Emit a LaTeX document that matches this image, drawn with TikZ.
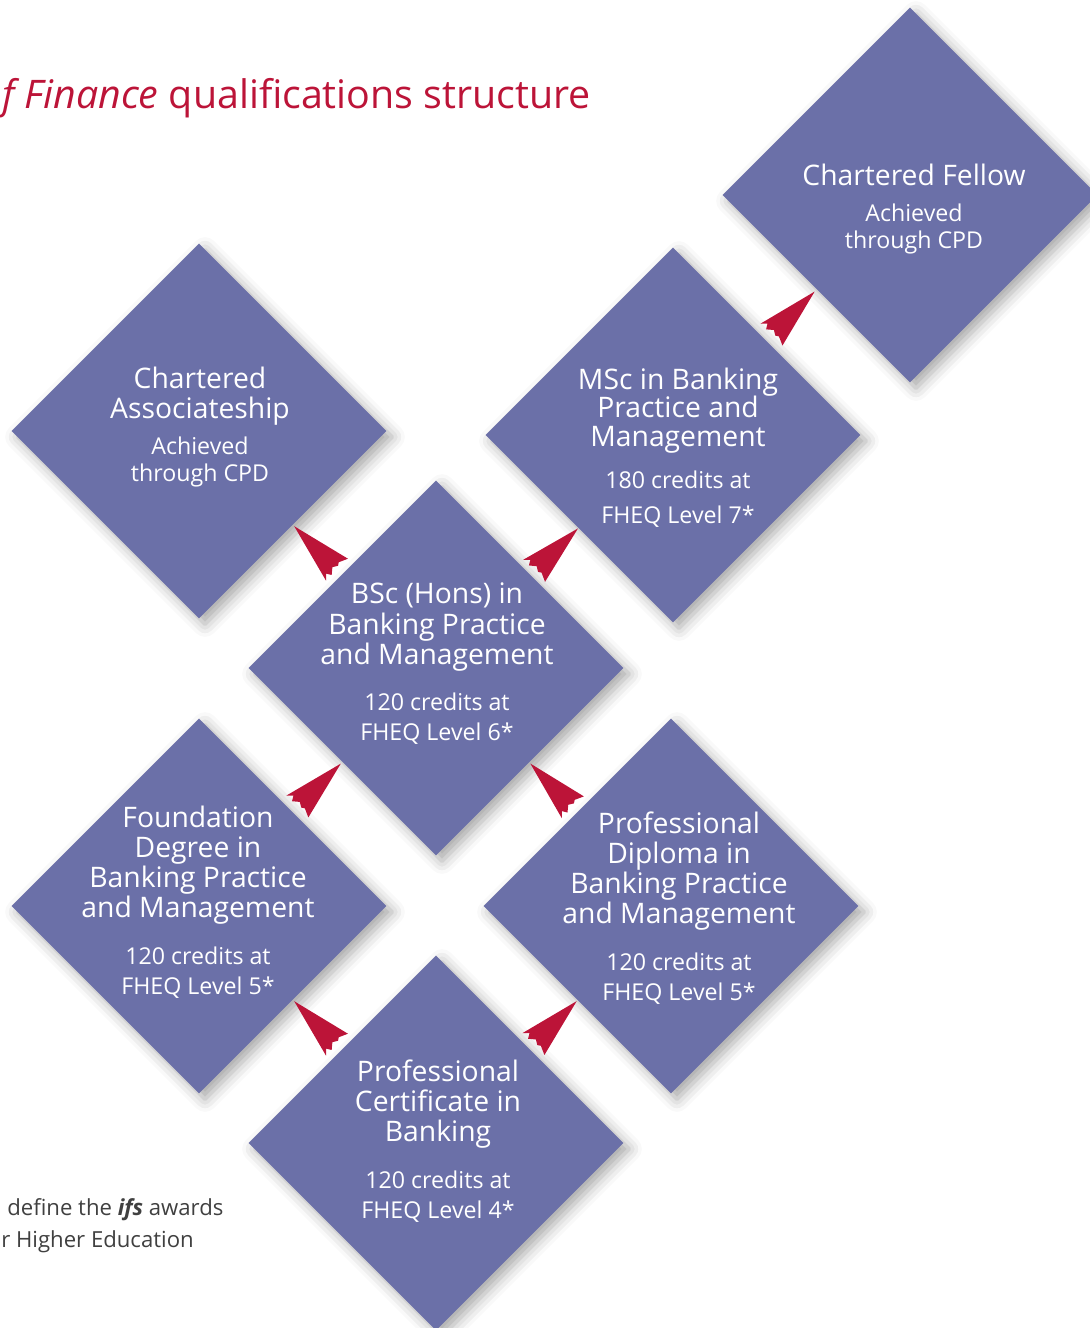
\documentclass[tikz,border=0pt]{standalone}
\usepackage{fontspec}
\setmainfont{Open Sans}
\usetikzlibrary{positioning}
\usetikzlibrary{shapes.geometric}
\usetikzlibrary{shadows.blur}
\usetikzlibrary{decorations.markings}

\definecolor{ifsblue}{RGB}{107,112,168}
\definecolor{ifsred}{RGB}{188,20,56}
\definecolor{ifsgrey}{RGB}{64,64,64}

\newcommand{\dsmall}{\fontsize{13.2}{15}\selectfont}

\tikzset{
  qual/.style={diamond,fill=ifsblue,minimum width=75mm,minimum height=75mm,inner sep=0pt,
    blur shadow={shadow xshift=1.2mm,shadow yshift=-1.2mm,shadow blur radius=2.5mm,shadow opacity=35}},
  qualtext/.style={white,align=center,font=\fontsize{16.1}{17.1}\selectfont},
  plane/.style={decorate,decoration={markings,mark=at position 0.5 with
    {\fill[ifsred] (33,0) -- (-28,-16) -- (-23,-11) -- (-28,-8) -- (-23,-2) -- (-26,3) -- (-24,6) -- (-28,15) -- cycle;}}}
}

\begin{document}
\begin{tikzpicture}[x=0.2mm,y=-0.2mm]
\useasboundingbox (0,0) rectangle (1090,1328);

\node at (2,108) [anchor=base west,inner sep=0pt,ifsred,font=\fontsize{22.4}{26}\selectfont] (title) {\textit{f Finance} qualifications structure};

% the qualifications
\node at (910,195) [qual] (cf) {};
\node at (199,431) [qual] (ca) {};
\node at (673,435) [qual] (msc) {};
\node at (436,668) [qual] (bsc) {};
\node at (199,906) [qual] (fd) {};
\node at (671,906) [qual] (pd) {};
\node at (436,1143) [qual] (pc) {};

\node at (cf) [qualtext,shift={(4,14)}] (cf-t) {Chartered Fellow\\[3.4pt]\dsmall Achieved\\[-1.7pt]\dsmall through CPD};
\node at (ca) [qualtext,shift={(1,-4)}] (ca-t) {Chartered\\Associateship\\[3.4pt]\dsmall Achieved\\[-1.7pt]\dsmall through CPD};
\node at (msc) [qualtext,shift={(5,13)}] (msc-t) {MSc in Banking\\[-1pt]Practice and\\[-1pt]Management\\[7pt]\dsmall 180 credits at\\[3pt]\dsmall FHEQ Level 7*};
\node at (bsc) [qualtext,shift={(1,-4)}] (bsc-t) {BSc (Hons) in\\Banking Practice\\and Management\\[9.5pt]\dsmall 120 credits at\\\dsmall FHEQ Level 6*};
\node at (fd) [qualtext,shift={(-1,-4)}] (fd-t) {Foundation\\Degree in\\Banking Practice\\and Management\\[9.5pt]\dsmall 120 credits at\\\dsmall FHEQ Level 5*};
\node at (pd) [qualtext,shift={(8,2)}] (pd-t) {Professional\\Diploma in\\Banking Practice\\and Management\\[9.5pt]\dsmall 120 credits at\\\dsmall FHEQ Level 5*};
\node at (pc) [qualtext,shift={(2,-2)}] (pc-t) {Professional\\Certificate in\\Banking\\[9.5pt]\dsmall 120 credits at\\\dsmall FHEQ Level 4*};

% progression
\path[plane] (pc) -- (fd);
\path[plane] (pc) -- (pd);
\path[plane] (fd) -- (bsc);
\path[plane] (pd) -- (bsc);
\path[plane] (bsc) -- (ca);
\path[plane] (bsc) -- (msc);
\path[plane] (msc) -- (cf);

\node at (7,1215) [anchor=base west,inner sep=0pt,ifsgrey,font=\fontsize{12.6}{15}\selectfont] (note1) {define the \textbf{\textit{ifs}} awards};
\node at (1,1247) [anchor=base west,inner sep=0pt,ifsgrey,font=\fontsize{12.6}{15}\selectfont] (note2) {r Higher Education};

\end{tikzpicture}
\end{document}
